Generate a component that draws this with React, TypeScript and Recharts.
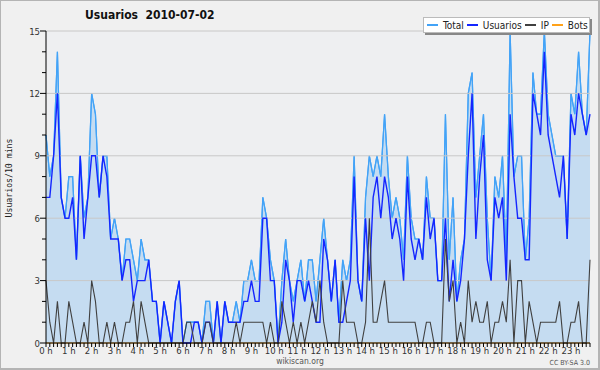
import React from "react";
import { ComposedChart, Area, Line, XAxis, YAxis, CartesianGrid, ReferenceLine } from "recharts";

const total = [
  10, 8, 9, 14, 7, 6, 8, 8, 4, 9, 6, 7, 12, 11, 7, 9, 9, 5, 6, 5, 3, 5, 5, 4,
  3, 5, 4, 4, 2, 2, 0, 2, 1, 0, 2, 3, 0, 1, 1, 1, 1, 0, 2, 2, 0, 2, 0, 2,
  1, 1, 2, 1, 3, 3, 4, 3, 3, 7, 6, 4, 3, 0, 3, 5, 3, 2, 3, 4, 2, 4, 4, 2,
  4, 6, 4, 2, 4, 1, 4, 3, 4, 9, 3, 2, 7, 9, 8, 9, 8, 11, 8, 6, 7, 6, 4, 9,
  6, 5, 5, 4, 8, 6, 6, 3, 3, 11, 4, 7, 2, 4, 5, 12, 13, 7, 9, 11, 6, 3, 8, 7,
  9, 4, 15, 8, 9, 9, 4, 6, 13, 11, 11, 15, 11, 10, 9, 9, 9, 5, 12, 11, 14, 11, 10, 15,
];
const usuarios = [
  7, 7, 9, 12, 7, 6, 6, 7, 4, 9, 5, 7, 9, 9, 7, 9, 8, 5, 5, 5, 3, 4, 4, 2,
  3, 3, 3, 4, 2, 2, 0, 2, 1, 0, 2, 3, 0, 0, 0, 1, 1, 0, 1, 1, 0, 2, 0, 2,
  1, 1, 1, 1, 2, 2, 3, 2, 2, 6, 6, 3, 3, 0, 1, 4, 3, 1, 3, 3, 2, 3, 2, 1,
  1, 5, 4, 2, 4, 1, 1, 2, 3, 8, 3, 2, 6, 3, 7, 8, 6, 8, 7, 5, 6, 5, 3, 8,
  5, 4, 5, 4, 7, 5, 6, 3, 3, 6, 2, 4, 2, 3, 5, 9, 12, 5, 8, 10, 4, 3, 7, 6,
  7, 3, 11, 8, 6, 6, 4, 4, 12, 11, 10, 14, 10, 9, 8, 7, 9, 5, 11, 10, 12, 11, 10, 11,
];
const ip = [
  3, 1, 0, 2, 0, 0, 2, 1, 0, 0, 1, 0, 3, 2, 0, 0, 1, 0, 1, 0, 0, 1, 1, 2,
  0, 2, 1, 0, 0, 0, 0, 0, 0, 0, 0, 0, 0, 1, 1, 0, 0, 0, 1, 1, 0, 0, 0, 0,
  0, 0, 1, 0, 1, 1, 1, 1, 1, 1, 0, 1, 0, 0, 2, 1, 0, 1, 0, 1, 0, 1, 2, 1,
  3, 1, 0, 0, 0, 0, 3, 1, 1, 1, 0, 0, 1, 6, 1, 1, 2, 3, 1, 1, 1, 1, 1, 1,
  1, 1, 0, 0, 1, 1, 0, 0, 0, 5, 2, 3, 0, 1, 0, 3, 1, 2, 1, 1, 2, 0, 1, 1,
  2, 1, 4, 0, 3, 3, 0, 2, 1, 0, 1, 1, 1, 1, 1, 2, 0, 0, 1, 1, 2, 0, 0, 4,
];
const bots = [
  0, 0, 0, 0, 0, 0, 0, 0, 0, 0, 0, 0, 0, 0, 0, 0, 0, 0, 0, 0, 0, 0, 0, 0,
  0, 0, 0, 0, 0, 0, 0, 0, 0, 0, 0, 0, 0, 0, 0, 0, 0, 0, 0, 0, 0, 0, 0, 0,
  0, 0, 0, 0, 0, 0, 0, 0, 0, 0, 0, 0, 0, 0, 0, 0, 0, 0, 0, 0, 0, 0, 0, 0,
  0, 0, 0, 0, 0, 0, 0, 0, 0, 0, 0, 0, 0, 0, 0, 0, 0, 0, 0, 0, 0, 0, 0, 0,
  0, 0, 0, 0, 0, 0, 0, 0, 0, 0, 0, 0, 0, 0, 0, 0, 0, 0, 0, 0, 0, 0, 0, 0,
  0, 0, 0, 0, 0, 0, 0, 0, 0, 0, 0, 0, 0, 0, 0, 0, 0, 0, 0, 0, 0, 0, 0, 0,
];

const hourLabels = [
  "0 h", "1 h", "2 h", "3 h", "4 h", "5 h", "6 h", "7 h", "8 h", "9 h", "10 h", "11 h",
  "12 h", "13 h", "14 h", "15 h", "16 h", "17 h", "18 h", "19 h", "20 h", "21 h", "22 h", "23 h",
];
const yTickValues = [0, 3, 6, 9, 12, 15];
const gridValues = [3, 6, 9, 12, 15];
const titleText = "Usuarios  2010-07-02";
const yLabelText = "Usuarios/10 mins";
const footerText = "wikiscan.org";
const licenseText = "CC BY-SA 3.0";

const series = [
  { key: "total", name: "Total", color: "#43a3f7" },
  { key: "usuarios", name: "Usuarios", color: "#1426ff" },
  { key: "ip", name: "IP", color: "#404040" },
  { key: "bots", name: "Bots", color: "#ffa21a" },
];

const slots = total.map((_, i) => i);
const minorY = Array.from({ length: 16 }, (_, i) => i);

const data = slots.map((i) => ({
  slot: i,
  total: total[i],
  usuarios: usuarios[i],
  ip: ip[i],
  bots: bots[i],
}));

const COND = "'DejaVu Sans Condensed', 'DejaVu Sans', sans-serif";

const XTick = (props: any) => {
  const { x, y, payload } = props;
  const v = payload.value as number;
  const isHour = v % 6 === 0;
  return (
    <g>
      <line x1={x} x2={x} y1={y} y2={y + 4} stroke="#000" strokeWidth={1} />
      {isHour && (
        <text x={x} y={y + 11} textAnchor="middle" fontSize={9.5} fill="#333" fontFamily={COND} style={{ fontStretch: "condensed" }}>
          {hourLabels[v / 6]}
        </text>
      )}
    </g>
  );
};

const YTick = (props: any) => {
  const { x, y, payload } = props;
  const v = payload.value as number;
  const major = yTickValues.includes(v);
  return (
    <g>
      <line x1={x - (major ? 6 : 4)} x2={x} y1={y} y2={y} stroke="#000" strokeWidth={1} />
      {major && (
        <text x={x - 6} y={y + 3.5} textAnchor="end" fontSize={9.5} fill="#333" fontFamily={COND} style={{ fontStretch: "condensed" }}>
          {v}
        </text>
      )}
    </g>
  );
};

export default function App() {
  return (
    <div style={{ position: "absolute", left: 0, top: 0, width: 600, height: 370, background: "#f0f0f0", overflow: "hidden" }}>
      <ComposedChart width={600} height={370} data={data} margin={{ top: 31, right: 10, bottom: 0, left: 0 }}>
        <CartesianGrid horizontal={false} vertical={false} fill="#eeeff1" />
        <XAxis
          dataKey="slot"
          type="number"
          domain={[0, 143]}
          ticks={slots}
          interval={0}
          tick={<XTick />}
          tickLine={false}
          tickSize={0}
          tickMargin={0}
          axisLine={{ stroke: "#000" }}
          height={27}
        />
        <YAxis
          type="number"
          domain={[0, 15]}
          ticks={minorY}
          interval={0}
          tick={<YTick />}
          tickLine={false}
          tickSize={0}
          tickMargin={0}
          axisLine={{ stroke: "#000" }}
          width={46}
        />
        <Line dataKey="bots" type="linear" stroke={series[3].color} strokeWidth={1} dot={false} isAnimationActive={false} />
        <Area dataKey="total" type="linear" stroke={series[0].color} strokeWidth={1.2} fill="#c5dcf1" fillOpacity={1} dot={false} isAnimationActive={false} />
        {gridValues.map((g) => (
          <ReferenceLine key={g} y={g} stroke="#c8c8c8" strokeWidth={1} />
        ))}
        <Area dataKey="total" type="linear" stroke={series[0].color} strokeWidth={1.2} fill="none" dot={false} isAnimationActive={false} />
        <Line dataKey="usuarios" type="linear" stroke={series[1].color} strokeWidth={1.4} dot={false} isAnimationActive={false} />
        <Line dataKey="ip" type="linear" stroke={series[2].color} strokeWidth={1.1} dot={false} isAnimationActive={false} />
      </ComposedChart>

      <div style={{ position: "absolute", left: 85, top: 8, fontFamily: COND, fontStretch: "condensed", fontWeight: "bold", fontSize: 12, color: "#111", whiteSpace: "pre", lineHeight: "14px" }}>
        {titleText}
      </div>

      <div style={{ position: "absolute", left: 2, top: 178, width: 0, height: 0 }}>
        <div style={{ position: "absolute", left: 0, top: 0, transform: "translate(-50%, -50%) rotate(-90deg)", transformOrigin: "center", whiteSpace: "nowrap", fontFamily: "'DejaVu Sans Mono', monospace", fontSize: 8.2, color: "#222", lineHeight: "10px", marginLeft: 7 }}>
          {yLabelText}
        </div>
      </div>

      <div style={{ position: "absolute", left: 423, top: 17, width: 167, height: 16, background: "#fff", border: "1px solid #bbb", boxShadow: "2px 2px 0 #888", boxSizing: "border-box", display: "flex", alignItems: "center", paddingLeft: 3, fontFamily: COND, fontStretch: "condensed", fontSize: 10, color: "#222", whiteSpace: "nowrap" }}>
        {series.map((s) => (
          <div key={s.key} style={{ display: "flex", alignItems: "center", marginRight: 3 }}>
            <div style={{ width: 11, height: 1.5, background: s.color, marginRight: 5 }} />
            <span>{s.name}</span>
          </div>
        ))}
      </div>

      <div style={{ position: "absolute", left: 0, width: 600, top: 357, textAlign: "center", fontFamily: COND, fontStretch: "condensed", fontSize: 8.5, color: "#555", lineHeight: "9px" }}>
        {footerText}
      </div>
      <div style={{ position: "absolute", right: 10, top: 359, fontFamily: COND, fontStretch: "condensed", fontSize: 7, color: "#555", lineHeight: "8px" }}>
        {licenseText}
      </div>

      <div style={{ position: "absolute", left: 0, top: 0, width: 600, height: 370, boxSizing: "border-box", borderTop: "1px solid #b4b4b4", borderLeft: "1px solid #b4b4b4", borderRight: "2px solid #b4b4b4", borderBottom: "2px solid #b4b4b4", pointerEvents: "none" }} />
    </div>
  );
}
